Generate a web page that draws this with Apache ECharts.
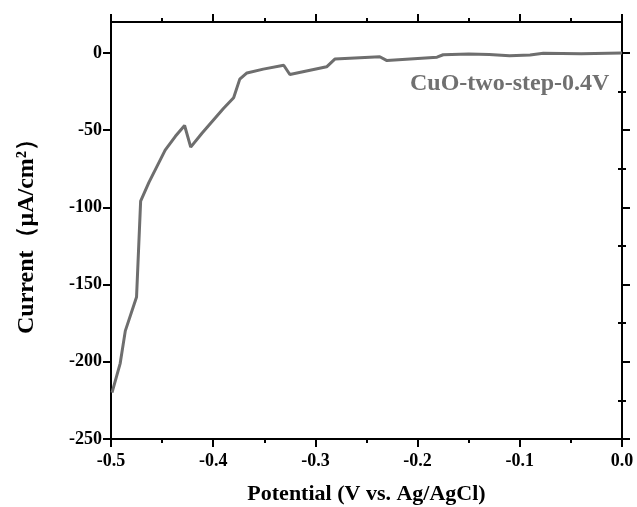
<!DOCTYPE html>
<html>
<head>
<meta charset="utf-8">
<script src="https://cdn.jsdelivr.net/npm/echarts@6/dist/echarts.min.js"></script>
<style>html,body{margin:0;padding:0;background:#fff;}#c{width:637px;height:507px;}</style>
</head>
<body>
<div id="c"></div>
<script>
const potential = [-0.499,-0.491,-0.486,-0.475,-0.471,-0.463,-0.447,-0.437,-0.428,-0.422,-0.411,-0.390,-0.380,-0.374,-0.367,-0.351,-0.331,-0.325,-0.289,-0.281,-0.237,-0.230,-0.181,-0.175,-0.150,-0.130,-0.110,-0.090,-0.077,-0.040,0.000];
const current   = [-220,-201,-180,-158,-96,-84,-63,-54,-47,-61,-52,-36,-29,-17,-13,-10.5,-8,-14,-9,-4,-2.5,-5,-2.8,-1.2,-0.8,-1.0,-1.8,-1.4,-0.3,-0.5,0];
const yMajorTicks = [-250,-200,-150,-100,-50,0];
const yMinorTicks = [-225,-175,-125,-75,-25];
const seriesLabel = 'CuO-two-step-0.4V';

const font = 'Liberation Serif';
const data = potential.map((p,i)=>[p,current[i]]);
const chart = echarts.init(document.getElementById('c'));
const xCommon = {type:'value',min:-0.5,max:0,interval:0.1,
  axisLine:{show:true,onZero:false,lineStyle:{color:'#000',width:2}},
  splitLine:{show:false},
  minorTick:{show:true,splitNumber:2,length:4,lineStyle:{color:'#000',width:2}},
  axisTick:{show:true,inside:false,length:8,lineStyle:{color:'#000',width:2}}};
const yCommon = {type:'value',min:-250,max:20,
  axisLine:{show:true,onZero:false,lineStyle:{color:'#000',width:2}},
  splitLine:{show:false}};
chart.setOption({
  animation:false,
  grid:{left:111,right:15,top:22,bottom:68,containLabel:false,outerBoundsMode:'none'},
  xAxis:[
    Object.assign({},xCommon,{position:'bottom',
      name:'Potential (V vs. Ag/AgCl)',nameLocation:'middle',nameGap:44,
      nameTextStyle:{fontFamily:font,fontWeight:'bold',fontSize:22,color:'#000'},
      axisLabel:{margin:13,fontFamily:font,fontWeight:'bold',fontSize:18,color:'#000',formatter:v=>v.toFixed(1)}}),
    Object.assign({},xCommon,{position:'top',axisLabel:{show:false}})
  ],
  yAxis:[
    Object.assign({},yCommon,{position:'left',
      name:'Current\uFF08\u03BCA/cm\u00B2\uFF09',nameLocation:'middle',nameGap:72,nameRotate:90,
      nameTextStyle:{fontFamily:font,fontWeight:'bold',fontSize:24,color:'#000'},
      axisTick:{show:true,length:8,customValues:yMajorTicks,lineStyle:{color:'#000',width:2}},
      axisLabel:{margin:9,customValues:yMajorTicks,fontFamily:font,fontWeight:'bold',fontSize:18,color:'#000'}}),
    Object.assign({},yCommon,{position:'left',axisLine:{show:false},
      axisTick:{show:true,length:4,customValues:yMinorTicks,lineStyle:{color:'#000',width:2}},
      axisLabel:{show:false,customValues:yMinorTicks}}),
    Object.assign({},yCommon,{position:'right',
      axisTick:{show:true,length:8,customValues:yMajorTicks,lineStyle:{color:'#000',width:2}},
      axisLabel:{show:false,customValues:yMajorTicks}}),
    Object.assign({},yCommon,{position:'right',axisLine:{show:false},
      axisTick:{show:true,length:4,customValues:yMinorTicks,lineStyle:{color:'#000',width:2}},
      axisLabel:{show:false,customValues:yMinorTicks}})
  ],
  series:[{type:'line',data:data,xAxisIndex:0,yAxisIndex:0,showSymbol:false,symbol:'none',
    lineStyle:{color:'#6e6e6e',width:3},z:3}],
  graphic:[{type:'text',left:410,top:72,style:{text:seriesLabel,fontFamily:font,fontWeight:'bold',fontSize:24,fill:'#707070'}}]
});
</script>
</body>
</html>
